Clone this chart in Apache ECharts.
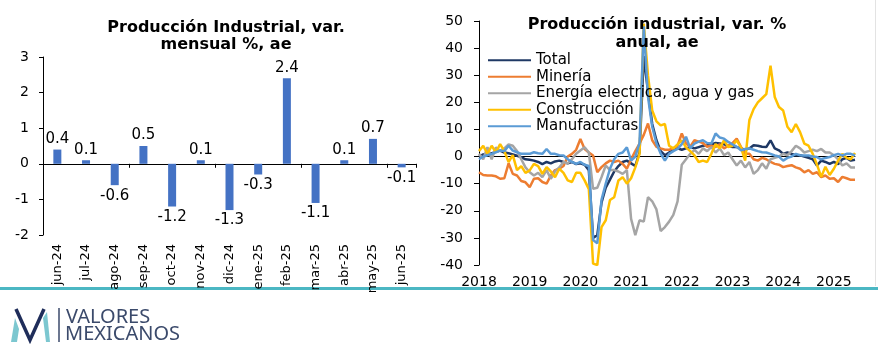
<!DOCTYPE html>
<html>
<head>
<meta charset="utf-8">
<script src="https://cdn.jsdelivr.net/npm/echarts@6/dist/echarts.min.js"></script>
<style>html,body{margin:0;padding:0;background:#fff;}#c{width:878px;height:359px;}</style>
</head>
<body>
<div id="c"></div>
<script>
// ---- Left chart: monthly change ----
const monthLabels = ['jun-24','jul-24','ago-24','sep-24','oct-24','nov-24','dic-24','ene-25','feb-25','mar-25','abr-25','may-25','jun-25'];
const monthlyChange = [0.4, 0.1, -0.6, 0.5, -1.2, 0.1, -1.3, -0.3, 2.4, -1.1, 0.1, 0.7, -0.1];

// ---- Right chart: annual change, monthly 2018-01 .. 2025-06 ----
const startYear = 2018;
const nMonths = 90;
const yearTickLabels = ['2018','2019','2020','2021','2022','2023','2024','2025'];
const seriesNames = ['Total','Minería','Energía electrica, agua y gas','Construcción','Manufacturas'];

const total = [
  0.0, 0.8, 1.0, 1.2, 1.8, 2.2, 1.5, 1.2, 0.8, 0.3, -0.2, -1.0,
  -1.2, -1.5, -2.0, -2.8, -2.0, -2.5, -1.8, -1.5, -2.0, -2.5, -2.0, -2.8,
  -2.5, -3.0, -5.0, -30.0, -29.0, -17.0, -11.5, -8.5, -5.5, -3.5, -2.0, -1.5,
  -2.5, -3.5, 1.5, 37.0, 24.0, 12.0, 6.0, 2.0, 0.5, 1.5, 2.5, 3.0,
  2.5, 3.0, 3.5, 3.0, 3.5, 4.0, 4.2, 4.5, 5.0, 4.8, 4.5, 4.0,
  3.5, 3.5, 3.0, 2.5, 3.0, 4.2, 4.0, 3.6, 3.5, 6.0, 3.0, 2.3,
  1.0, 1.5, 1.0, 0.5, 0.5, 0.0, -0.5, -1.0, -3.3, -1.5, -2.0, -2.7,
  -2.0, -2.8, -1.0, -0.5, -1.5, -1.2
];
const mining = [
  -5.8, -6.8, -7.0, -7.0, -7.3, -8.2, -8.0, -2.5, -6.4, -7.0, -9.0, -9.5,
  -11.3, -8.2, -8.0, -9.4, -10.0, -7.0, -5.0, -4.5, -3.5, 0.0, 1.0, 2.5,
  6.5, 2.8, 1.5, 0.4, -5.8, -3.9, -2.5, -1.5, -2.0, -1.5, -2.7, -4.5,
  -1.0, 2.0, 4.8, 8.0, 12.2, 6.0, 3.6, 3.0, 2.5, 2.5, 3.0, 4.0,
  8.5, 4.8, 3.6, 6.0, 5.5, 5.0, 3.6, 4.0, 3.5, 4.5, 3.0, 4.0,
  5.0, 6.6, 3.6, 1.0, 1.0, -1.0, -1.5, -0.5, -1.0, -2.0, -2.7, -3.0,
  -3.9, -3.5, -3.2, -4.0, -4.5, -5.8, -5.0, -6.4, -5.8, -7.6, -7.0, -8.2,
  -8.0, -9.4, -7.5, -8.0, -8.6, -8.6
];
const energy = [
  1.0, -1.0, 3.5, -1.0, 3.4, 2.0, 3.0, 4.5, 4.0, 2.0, -1.0, -4.0,
  -5.8, -7.0, -6.0, -7.6, -5.0, -8.2, -5.5, -4.0, -2.0, -2.5, -1.0, 1.0,
  2.2, 3.4, 1.5, -11.9, -11.5, -7.6, -3.3, -5.0, -5.0, -5.5, -6.4, -5.0,
  -23.0, -29.0, -23.5, -24.0, -15.0, -16.5, -19.5, -27.5, -26.0, -24.0, -21.5, -16.5,
  -3.0, -1.0, 1.0, 2.5, 1.0, 3.0, 2.0, 3.5, 1.5, 3.0, 0.5, 1.5,
  -1.0, -3.3, -1.5, -4.0, -2.0, -6.4, -5.0, -2.5, -4.5, -1.0, -0.5, 0.0,
  1.0, 0.5, 2.0, 4.0, 3.0, 1.5, 2.0, 2.5, 2.0, 2.8, 1.5, 1.5,
  0.5, -1.0, -3.3, -2.5, -4.0, -4.0
];
const construction = [
  2.0, 4.0, 1.0, 4.0, 1.5, 4.6, 2.0, -2.0, 0.5, -5.0, -3.5, -6.0,
  -5.1, -2.7, -3.5, -6.4, -3.9, -5.5, -7.6, -4.5, -6.0, -8.8, -9.4, -6.0,
  -6.0, -8.8, -12.0, -39.5, -40.0, -26.0, -23.5, -16.0, -15.0, -8.8, -7.6, -10.0,
  -8.0, -4.0, 1.0, 49.0, 30.0, 17.0, 13.0, 11.5, 12.0, 4.0, 3.0, 4.5,
  6.0, 3.4, 2.0, 0.4, -2.0, -1.5, -2.0, 1.0, 4.6, 3.0, 6.0, 3.5,
  4.0, 6.0, 3.4, -1.5, 13.5, 17.5, 20.0, 21.5, 23.0, 33.5, 22.0, 18.3,
  17.0, 11.0, 9.0, 12.0, 9.0, 4.8, 4.0, 1.0, -3.0, -7.5, -3.8, -6.8,
  -4.5, -1.5, 1.0, -0.5, -1.0, 1.3
];
const manufacturing = [
  -1.0, 0.0, 0.5, 1.0, 1.6, 2.2, 2.0, 4.0, 2.2, 1.6, 1.0, 1.0,
  1.0, 1.6, 1.2, 1.0, 2.8, 1.0, 1.0, 0.5, 0.4, -1.0, -2.0, -2.7,
  -2.0, -3.0, -3.5, -30.8, -32.0, -16.0, -10.0, -4.5, -1.0, 1.0, 1.5, 3.4,
  -1.5, 0.0, 5.0, 48.0, 22.0, 11.0, 4.8, 1.1, -1.5, 1.0, 2.0, 2.8,
  4.6, 7.3, 3.0, 4.8, 5.5, 6.0, 5.0, 4.8, 8.5, 7.0, 6.6, 5.4,
  4.5, 3.6, 2.3, 2.8, 3.0, 2.5, 2.0, 1.6, 1.5, 1.0, 0.4, 0.0,
  -1.5, -0.5, 0.0, 1.0, 0.5, 0.4, 0.4, 0.0, -0.2, -1.0, -0.5, -0.2,
  0.5, 1.0, 0.4, 1.0, 1.0, 0.4
];

const seriesData = [total, mining, energy, construction, manufacturing];
const seriesColors = ['#1F3864', '#ED7D31', '#A5A5A5', '#FFC000', '#5B9BD5'];

const dateCats = [];
for (let i = 0; i < nMonths; i++) {
  const y = startYear + Math.floor(i / 12);
  const m = (i % 12) + 1;
  dateCats.push(y + '-' + (m < 10 ? '0' + m : m));
}

const FONT = 'DejaVu Sans';
const chart = echarts.init(document.getElementById('c'), null, {renderer: 'canvas'});

const option = {
  backgroundColor: '#ffffff',
  animation: false,
  textStyle: {fontFamily: FONT},
  title: [
    {
      text: 'Producción Industrial, var.\nmensual %, ae',
      left: 226, top: 19, textAlign: 'center', padding: 0,
      textStyle: {fontFamily: FONT, fontSize: 16, fontWeight: 'bold', color: '#000', lineHeight: 17}
    },
    {
      text: 'Producción industrial, var. %\nanual, ae',
      left: 657, top: 16, textAlign: 'center', padding: 0,
      textStyle: {fontFamily: FONT, fontSize: 16, fontWeight: 'bold', color: '#000', lineHeight: 18}
    }
  ],
  legend: {
    data: seriesNames,
    orient: 'vertical',
    left: 487, top: 52, padding: 0,
    itemWidth: 43, itemHeight: 14, itemGap: 0,
    textStyle: {fontFamily: FONT, fontSize: 15, color: '#000', lineHeight: 16.5, height: 16.5},
    itemStyle: {opacity: 0}
  },
  grid: [
    {left: 43, right: 462, top: 57, bottom: 124},
    {left: 479, right: 23, top: 21, bottom: 94}
  ],
  xAxis: [
    {
      type: 'category', gridIndex: 0, data: monthLabels,
      axisLine: {onZero: true, lineStyle: {color: '#000', width: 1}},
      axisTick: {show: true, length: 4, lineStyle: {color: '#000'}},
      axisLabel: {show: false}
    },
    {
      type: 'category', gridIndex: 0, data: monthLabels, position: 'bottom',
      axisLine: {show: false, onZero: false},
      axisTick: {show: false},
      axisLabel: {rotate: 90, fontSize: 13, color: '#000', margin: 9, fontFamily: FONT}
    },
    {
      type: 'category', gridIndex: 1, data: dateCats, boundaryGap: false, position: 'bottom',
      axisLine: {show: false, onZero: false},
      axisTick: {show: false},
      axisLabel: {
        color: '#000', fontSize: 14, margin: 10, fontFamily: FONT,
        interval: function (idx) { return idx % 12 === 0; },
        formatter: function (v, idx) { return yearTickLabels[Math.floor(idx / 12)]; }
      }
    },
    {
      type: 'category', gridIndex: 1, data: dateCats, boundaryGap: false,
      axisLine: {onZero: true, lineStyle: {color: '#000', width: 1}},
      axisTick: {show: false},
      axisLabel: {show: false}
    }
  ],
  yAxis: [
    {
      type: 'value', gridIndex: 0, min: -2, max: 3, interval: 1,
      axisLine: {show: true, lineStyle: {color: '#000'}},
      axisTick: {show: true, length: 4, lineStyle: {color: '#000'}},
      splitLine: {show: false},
      axisLabel: {color: '#000', fontSize: 14, margin: 14, fontFamily: FONT}
    },
    {
      type: 'value', gridIndex: 1, min: -40, max: 50, interval: 10,
      axisLine: {show: true, lineStyle: {color: '#000'}},
      axisTick: {show: true, length: 5, lineStyle: {color: '#000'}},
      splitLine: {show: false},
      axisLabel: {color: '#000', fontSize: 14, margin: 16, fontFamily: FONT}
    }
  ],
  series: [
    {
      type: 'bar', xAxisIndex: 0, yAxisIndex: 0, barWidth: 8,
      itemStyle: {color: '#4472C4'},
      data: monthlyChange.map(function (v) {
        return {value: v, label: {position: v >= 0 ? 'top' : 'bottom'}};
      }),
      label: {
        show: true, fontSize: 15, color: '#000', distance: 3, fontFamily: FONT,
        formatter: function (p) { return p.value.toFixed(1); }
      }
    }
  ].concat(seriesNames.map(function (name, k) {
    return {
      name: name, type: 'line', xAxisIndex: 2, yAxisIndex: 1,
      data: seriesData[k], symbol: 'none', smooth: false,
      lineStyle: {color: seriesColors[k], width: 2.5},
      itemStyle: {color: seriesColors[k]}
    };
  })),
  graphic: [
    {type: 'rect', shape: {x: 0, y: 287, width: 878, height: 3}, style: {fill: '#4BB7C3'}, silent: true},
    {type: 'line', shape: {x1: 875.5, y1: 0, x2: 875.5, y2: 286}, style: {stroke: '#e3e3e3', lineWidth: 1}, silent: true},
    {type: 'polygon', shape: {points: [[11,342],[15,318],[19,329],[17,342]]}, style: {fill: '#7CC7D0'}, silent: true},
    {type: 'polyline', shape: {points: [[16,309],[30,340],[44,309]]}, style: {stroke: '#1F2D5A', lineWidth: 3.5, fill: null}, silent: true},
    {type: 'polygon', shape: {points: [[43,318],[46,342],[50,342],[47,312]]}, style: {fill: '#7CC7D0'}, silent: true},
    {type: 'line', shape: {x1: 59, y1: 308, x2: 59, y2: 342}, style: {stroke: '#3B4A6B', lineWidth: 1.5}, silent: true},
    {type: 'text', style: {x: 66, y: 317, text: 'VALORES', font: '20px "Noto Sans"', fill: '#3B4A6B', verticalAlign: 'middle', align: 'left'}, silent: true},
    {type: 'text', style: {x: 65, y: 334.5, text: 'MEXICANOS', font: '20px "Noto Sans"', fill: '#3B4A6B', verticalAlign: 'middle', align: 'left'}, silent: true}
  ]
};
chart.setOption(option);
</script>
</body>
</html>
